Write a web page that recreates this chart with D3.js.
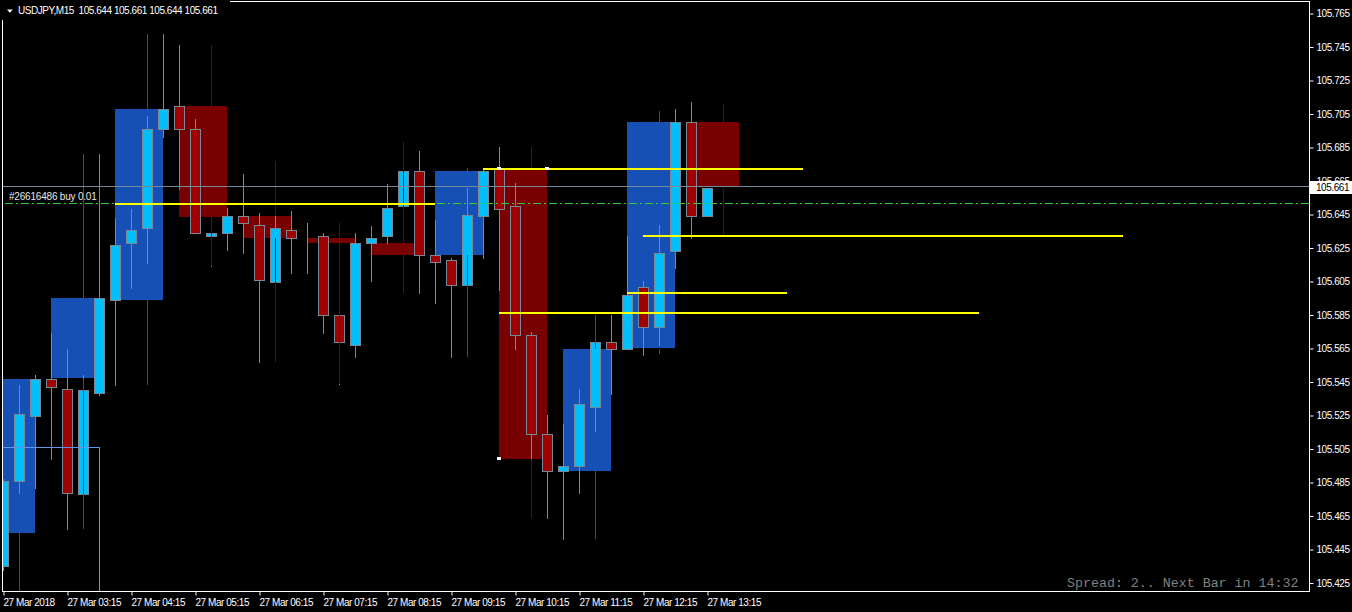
<!DOCTYPE html>
<html>
<head>
<meta charset="utf-8">
<script src="https://cdn.jsdelivr.net/npm/d3@7"></script>
<style>
  html, body { margin: 0; padding: 0; background: #000; }
  svg { display: block; }
  text { font-family: "Liberation Sans", Arial, sans-serif; font-size: 10px; letter-spacing: -0.45px; }
</style>
</head>
<body>
<svg width="1352" height="612"></svg>
<script>
// M15 BARS, 27 Mar 2018 02:15 .. 13:15 (bar index 0..44)
const barOpen = [105.435, 105.486, 105.525, 105.547, 105.541, 105.478, 105.538, 105.594, 105.628, 105.637,
  105.696, 105.710, 105.696, 105.632, 105.634, 105.644, 105.639, 105.605, 105.636, 105.631,
  105.632, 105.585, 105.567, 105.628, 105.632, 105.650, 105.671, 105.621, 105.618, 105.603,
  105.644, 105.672, 105.650, 105.573, 105.514, 105.492, 105.495, 105.530, 105.569, 105.565,
  105.602, 105.578, 105.623, 105.700, 105.644];
const barHigh = [105.487, 105.543, 105.549, 105.574, 105.565, 105.549, 105.681, 105.643, 105.648, 105.704,
  105.753, 105.746, 105.702, 105.638, 105.649, 105.669, 105.646, 105.677, 105.647, 105.640,
  105.634, 105.590, 105.634, 105.638, 105.663, 105.688, 105.683, 105.642, 105.619, 105.661,
  105.673, 105.685, 105.664, 105.575, 105.525, 105.520, 105.541, 105.569, 105.585, 105.632,
  105.605, 105.639, 105.708, 105.712, 105.661];
const barLow = [105.433, 105.479, 105.482, 105.499, 105.457, 105.470, 105.537, 105.543, 105.601, 105.616,
  105.691, 105.660, 105.634, 105.614, 105.624, 105.622, 105.557, 105.590, 105.610, 105.610,
  105.574, 105.544, 105.560, 105.605, 105.628, 105.645, 105.598, 105.592, 105.560, 105.565,
  105.619, 105.600, 105.565, 105.498, 105.464, 105.451, 105.479, 105.516, 105.538, 105.565,
  105.561, 105.567, 105.613, 105.631, 105.644];
const barClose = [105.486, 105.526, 105.547, 105.542, 105.479, 105.540, 105.595, 105.627, 105.636, 105.696,
  105.708, 105.696, 105.634, 105.634, 105.644, 105.640, 105.606, 105.637, 105.631, 105.631,
  105.585, 105.569, 105.628, 105.631, 105.649, 105.671, 105.621, 105.617, 105.603, 105.645,
  105.671, 105.648, 105.573, 105.514, 105.492, 105.495, 105.532, 105.569, 105.565, 105.597,
  105.578, 105.622, 105.700, 105.644, 105.661];

// H1 CANDLES DRAWN AS BOXES (first M15 bar of each hour)
const hourStart = [-1, 3, 7, 11, 15, 19, 23, 27, 31, 35, 39, 43];
const hourOpen  = [105.455, 105.547, 105.594, 105.710, 105.644, 105.631, 105.628, 105.621, 105.672, 105.492, 105.565, 105.700];
const hourHigh  = [105.547, 105.681, 105.753, 105.746, 105.677, 105.640, 105.688, 105.673, 105.685, 105.585, 105.707, 105.711];
const hourLow   = [105.415, 105.457, 105.543, 105.614, 105.557, 105.544, 105.598, 105.560, 105.464, 105.451, 105.562, 105.633];
const hourClose = [105.547, 105.595, 105.708, 105.644, 105.631, 105.628, 105.621, 105.671, 105.499, 105.565, 105.700, 105.661];

// YELLOW LEVELS
const levelPrice = [105.651, 105.672, 105.632, 105.598, 105.586];
const levelFrom  = [7, 30, 40, 39, 31];
const levelTo    = [27, 50, 70, 49, 61];

// OTHER CHART OBJECTS
const bidPrice = 105.661;
const orderPrice = 105.652;
const orderLabel = "#26616486 buy 0.01";
const boxTop = 105.506, boxBottom = 105.400, boxFrom = -1, boxTo = 6;
const handleBars   = [31, 34, 31];
const handlePrices = [105.672, 105.672, 105.499];

// AXIS LABELS
const priceLabels = ["105.765", "105.745", "105.725", "105.705", "105.685", "105.665", "105.645", "105.625", "105.605",
  "105.585", "105.565", "105.545", "105.525", "105.505", "105.485", "105.465", "105.445", "105.425"];
const timeTickBars = [0, 4, 8, 12, 16, 20, 24, 28, 32, 36, 40, 44];
const timeLabels = ["27 Mar 2018", "27 Mar 03:15", "27 Mar 04:15", "27 Mar 05:15", "27 Mar 06:15", "27 Mar 07:15",
  "27 Mar 08:15", "27 Mar 09:15", "27 Mar 10:15", "27 Mar 11:15", "27 Mar 12:15", "27 Mar 13:15"];

const title = "USDJPY,M15  105.644 105.661 105.644 105.661";
const infoText = "Spread: 2.. Next Bar in 14:32";

// CHART PARAMETERS
const svg = d3.select("svg");
const plot = { left: 2, right: 1309, top: 1, bottom: 591 };
const upFill = "#00bfff", downFill = "#a00000", edge = "#778899";
const hourUp = "#1650b4", hourDown = "#780000";

const x = d3.scaleLinear().domain([0, 44]).range([3, 707]);
const y = d3.scaleLinear().domain([105.425, 105.765]).range([583, 13.5]);
const px = (v) => Math.round(v) + 0.5;

svg.append("rect").attr("width", 1352).attr("height", 612).attr("fill", "#000");

svg.append("clipPath").attr("id", "plot-clip")
  .append("rect")
  .attr("x", plot.left + 1).attr("y", plot.top)
  .attr("width", plot.right - plot.left - 1).attr("height", plot.bottom - plot.top);

const g = svg.append("g").attr("clip-path", "url(#plot-clip)");

// HOURLY BOXES
const hours = hourStart.map((s, i) => ({ s, o: hourOpen[i], h: hourHigh[i], l: hourLow[i], c: hourClose[i] }));
g.selectAll("rect.hour").data(hours).enter().append("rect")
  .attr("class", "hour")
  .attr("x", (d) => x(d.s))
  .attr("width", (d) => x(d.s + 3) - x(d.s))
  .attr("y", (d) => Math.round(y(Math.max(d.o, d.c))))
  .attr("height", (d) => Math.max(1, Math.round(Math.abs(y(d.o) - y(d.c)))))
  .attr("fill", (d) => (d.c >= d.o ? hourUp : hourDown));

// M15 CANDLES
const bars = barOpen.map((o, i) => ({ i, o, h: barHigh[i], l: barLow[i], c: barClose[i] }));
g.selectAll("line.wick").data(bars).enter().append("line")
  .attr("class", "wick")
  .attr("x1", (d) => px(x(d.i))).attr("x2", (d) => px(x(d.i)))
  .attr("y1", (d) => Math.round(y(d.h))).attr("y2", (d) => Math.round(y(d.l)) + 1)
  .attr("stroke", edge);

g.selectAll("rect.body").data(bars).enter().append("rect")
  .attr("class", "body")
  .attr("x", (d) => Math.round(x(d.i)) - 4.5)
  .attr("width", 10)
  .attr("y", (d) => px(y(Math.max(d.o, d.c))))
  .attr("height", (d) => Math.round(Math.abs(y(d.o) - y(d.c))))
  .attr("fill", (d) => (d.c >= d.o ? upFill : downFill))
  .attr("stroke", edge);

// HOURLY WICKS (on top of the bars)
hours.forEach((d) => {
  const wx = px(x(d.s + 2));
  const col = d.c >= d.o ? hourUp : hourDown;
  const segs = [[d.h, Math.max(d.o, d.c)], [Math.min(d.o, d.c), d.l]];
  segs.forEach(([a, b]) => {
    if (Math.abs(y(a) - y(b)) < 1) return;
    g.append("line")
      .attr("x1", wx).attr("x2", wx)
      .attr("y1", Math.round(y(a))).attr("y2", Math.round(y(b)))
      .attr("stroke", col);
  });
});

// BID LINE
g.append("line")
  .attr("x1", plot.left).attr("x2", plot.right)
  .attr("y1", px(y(bidPrice) - 1.5)).attr("y2", px(y(bidPrice) - 1.5))
  .attr("stroke", edge);

// ORDER LINE
g.append("line")
  .attr("x1", plot.left + 3).attr("x2", plot.right)
  .attr("y1", px(y(orderPrice))).attr("y2", px(y(orderPrice)))
  .attr("stroke", "#32cd32")
  .attr("stroke-dasharray", "8,3,2,3");

// LIGHT BLUE RECTANGLE OBJECT
g.append("rect")
  .attr("x", px(x(boxFrom))).attr("y", px(y(boxTop)))
  .attr("width", x(boxTo) - x(boxFrom))
  .attr("height", y(boxBottom) - y(boxTop))
  .attr("fill", "none")
  .attr("stroke", "#6495ed");

// YELLOW LEVELS
g.selectAll("line.level").data(levelPrice).enter().append("line")
  .attr("class", "level")
  .attr("x1", (d, i) => x(levelFrom[i])).attr("x2", (d, i) => x(levelTo[i]))
  .attr("y1", (d) => Math.round(y(d))).attr("y2", (d) => Math.round(y(d)))
  .attr("stroke", "#ffff00")
  .attr("stroke-width", 2);

// HANDLES
g.selectAll("rect.handle").data(handleBars).enter().append("rect")
  .attr("class", "handle")
  .attr("x", (d) => x(d) - 2).attr("y", (d, i) => Math.round(y(handlePrices[i])) - 2)
  .attr("width", 4).attr("height", 3)
  .attr("fill", "#fff");

// ORDER LABEL
g.append("text")
  .attr("x", 9).attr("y", Math.round(y(orderPrice)) - 3)
  .attr("fill", "#e6e6e6")
  .style("letter-spacing", "-0.2px")
  .text(orderLabel);

// FRAME
const frame = svg.append("g").attr("stroke", "#fff").attr("fill", "none");
frame.append("line").attr("x1", plot.left + 0.5).attr("x2", plot.left + 0.5).attr("y1", 20).attr("y2", plot.bottom + 0.5);
frame.append("line").attr("x1", plot.right + 0.5).attr("x2", plot.right + 0.5).attr("y1", plot.top).attr("y2", plot.bottom + 0.5);
frame.append("line").attr("x1", plot.left).attr("x2", plot.right + 1).attr("y1", plot.bottom + 0.5).attr("y2", plot.bottom + 0.5);
frame.append("line").attr("x1", 230).attr("x2", plot.right + 1).attr("y1", plot.top + 0.5).attr("y2", plot.top + 0.5);

// PRICE AXIS
const yAxis = d3.axisRight(y)
  .tickValues(priceLabels.map(Number))
  .tickFormat((d, i) => priceLabels[i])
  .tickSize(4).tickPadding(3);
const yAxisG = svg.append("g").attr("transform", `translate(${plot.right + 0.5},0)`).call(yAxis);
yAxisG.select(".domain").remove();
yAxisG.selectAll("line").attr("stroke", "#fff");
yAxisG.selectAll("text").attr("fill", "#fff").attr("font-family", null).attr("font-size", null);

// BID LABEL (covers the lower half of the 105.665 label, as in the terminal)
svg.append("rect")
  .attr("x", plot.right + 1).attr("y", Math.round(y(bidPrice)) - 7)
  .attr("width", 1352 - plot.right - 1).attr("height", 13)
  .attr("fill", "#fff");
svg.append("text")
  .attr("x", plot.right + 7).attr("y", Math.round(y(bidPrice)) + 3)
  .attr("fill", "#000")
  .text(bidPrice.toFixed(3));

// TIME AXIS
const xAxis = d3.axisBottom(x)
  .tickValues(timeTickBars)
  .tickFormat((d, i) => timeLabels[i])
  .tickSize(4).tickPadding(3);
const xAxisG = svg.append("g").attr("transform", `translate(0.5,${plot.bottom + 0.5})`).call(xAxis);
xAxisG.select(".domain").remove();
xAxisG.selectAll("line").attr("stroke", "#fff");
xAxisG.selectAll("text").attr("fill", "#fff").attr("text-anchor", "start").attr("x", -0.5)
  .attr("font-family", null).attr("font-size", null);

// TITLE
svg.append("path").attr("d", "M7,9.5L12.8,9.5L9.9,12.8Z").attr("fill", "#fff");
svg.append("text").attr("x", 18).attr("y", 14).attr("fill", "#fff").attr("xml:space", "preserve")
  .style("white-space", "pre").text(title);

// INFO TEXT
svg.append("text")
  .attr("x", 1067).attr("y", 587)
  .attr("fill", "#808080")
  .style("font-family", "'Liberation Mono', 'DejaVu Sans Mono', monospace")
  .style("font-size", "13.3px")
  .style("letter-spacing", "0px")
  .text(infoText);
</script>
</body>
</html>
